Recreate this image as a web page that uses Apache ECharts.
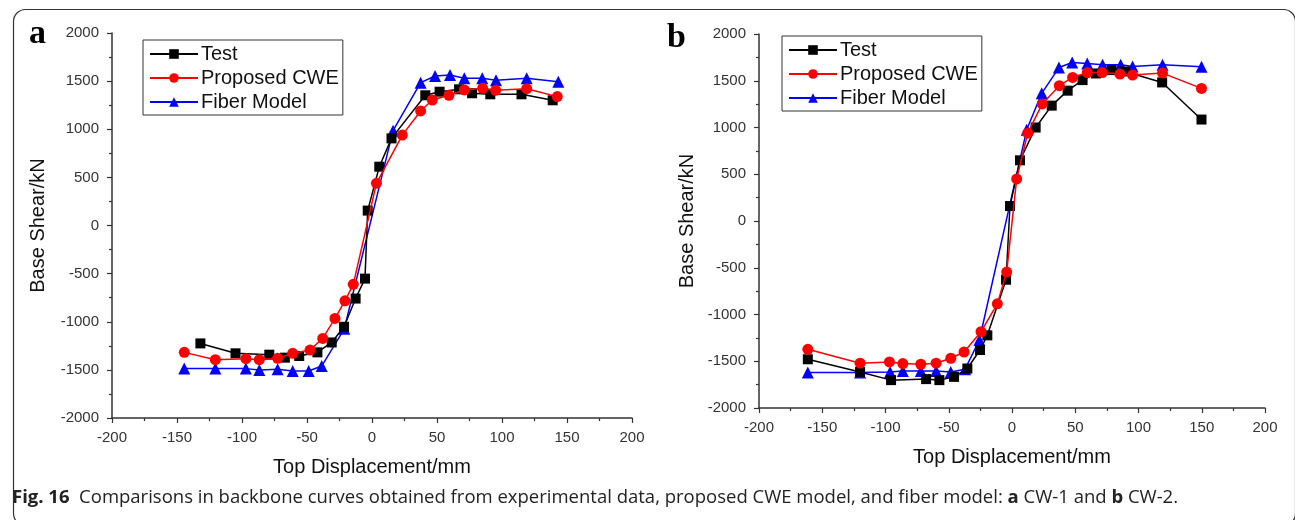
<!DOCTYPE html>
<html>
<head>
<meta charset="utf-8">
<script src="https://cdn.jsdelivr.net/npm/echarts@6/dist/echarts.min.js"></script>
<style>
  html, body { margin: 0; padding: 0; background: #fff; }
  #chart { width: 1295px; height: 520px; }
</style>
</head>
<body>
<div id="chart"></div>
<script>
// panel a (CW-1): [displacement mm, base shear kN]
const testA = [
  [-132, -1225], [-105, -1328], [-79, -1342], [-67, -1373], [-56, -1356], [-42, -1318],
  [-31, -1215], [-21.5, -1052], [-12.6, -759], [-5.4, -552], [-3.3, 155], [5.6, 611],
  [15, 905], [41, 1353], [52, 1390], [67, 1415], [77, 1374], [91, 1363], [115, 1363], [139, 1301]
]
const cweA = [
  [-144.4, -1318], [-120.5, -1394], [-97, -1384], [-86.7, -1394], [-72.6, -1380], [-61, -1328],
  [-47.7, -1294], [-37.9, -1173], [-28.5, -966], [-20.8, -783], [-14.4, -611], [3.4, 438],
  [23.3, 939], [37.4, 1190], [46.4, 1304], [59.2, 1353], [71, 1408], [85.1, 1425],
  [95.1, 1405], [119, 1421], [142.5, 1339]
]
const fiberA = [
  [-144.4, -1487], [-120.5, -1487], [-97, -1487], [-86.7, -1501], [-72.6, -1494], [-61, -1511],
  [-48.7, -1511], [-38.7, -1460], [-21.3, -1073], [16.2, 985], [37.4, 1484], [48.5, 1553],
  [60, 1563], [71, 1529], [84.8, 1529], [95.4, 1508], [119, 1529], [143.3, 1494]
]

// panel b (CW-2)
const testB = [
  [-161.4, -1479], [-120.1, -1614], [-95.6, -1702], [-67.9, -1691], [-57.4, -1702], [-45.8, -1667],
  [-35.3, -1578], [-25.3, -1380], [-19.5, -1223], [-4.7, -628], [-1.6, 160], [6.3, 649],
  [18.7, 1000], [31.4, 1234], [44, 1394], [55.8, 1507], [66.4, 1578], [78.7, 1614],
  [89.3, 1599], [118.7, 1482], [149.8, 1085]
]
const cweB = [
  [-161.4, -1372], [-120.1, -1521], [-96.9, -1507], [-86.3, -1525], [-72.1, -1532], [-60, -1521],
  [-48.4, -1468], [-37.9, -1401], [-24.5, -1184], [-11.6, -886], [-4.2, -546], [3.7, 450],
  [12.4, 939], [23.9, 1252], [37.4, 1447], [47.9, 1535], [59.5, 1588], [71.3, 1588],
  [85.3, 1571], [95.3, 1561], [119, 1582], [149.8, 1418]
]
const fiberB = [
  [-161.4, -1620], [-120.1, -1620], [-96.4, -1614], [-86.3, -1603], [-72.1, -1603], [-60, -1603],
  [-48.4, -1614], [-37.1, -1585], [-25.8, -1273], [11.6, 975], [23.5, 1365], [37.1, 1641],
  [47.6, 1695], [59.5, 1684], [71.6, 1670], [85.9, 1670], [95.3, 1652], [119, 1670], [149.8, 1649]
]

const names = ['Test', 'Proposed CWE', 'Fiber Model']
const xTitle = 'Top Displacement/mm'
const yTitle = 'Base Shear/kN'
const caption = 'Comparisons in backbone curves obtained from experimental data, proposed CWE model, and fiber model: '

const AXC = '#333'
const FONT = 'Arial'

function xAxisOf(idx, gap) {
  return {
    type: 'value', gridIndex: idx, min: -200, max: 200, interval: 50,
    name: xTitle, nameLocation: 'middle', nameGap: gap,
    nameTextStyle: { color: '#111', fontSize: 20, fontFamily: FONT },
    axisLine: { onZero: false, lineStyle: { color: AXC, width: 1.5 } },
    axisTick: { length: 5, lineStyle: { color: AXC, width: 1.2 } },
    minorTick: { show: true, splitNumber: 2, length: 3, lineStyle: { color: AXC, width: 1.2 } },
    axisLabel: { color: '#333', fontSize: 15, fontFamily: FONT, margin: 12, formatter: v => String(v) },
    splitLine: { show: false },
  }
}

function yAxisOf(idx, gap) {
  return {
    type: 'value', gridIndex: idx, min: -2000, max: 2000, interval: 500,
    name: yTitle, nameLocation: 'middle', nameGap: gap,
    nameTextStyle: { color: '#111', fontSize: 20, fontFamily: FONT },
    axisLine: { show: true, onZero: false, lineStyle: { color: AXC, width: 1.5 } },
    axisTick: { show: true, length: 5, lineStyle: { color: AXC, width: 1.2 } },
    minorTick: { show: true, splitNumber: 2, length: 3, lineStyle: { color: AXC, width: 1.2 } },
    axisLabel: { color: '#333', fontSize: 15, fontFamily: FONT, margin: 13, formatter: v => String(v) },
    splitLine: { show: false },
  }
}

function lineSeries(name, data, idx, color, symbol, size) {
  return {
    name, type: 'line', data, xAxisIndex: idx, yAxisIndex: idx,
    symbol, symbolSize: size, showSymbol: true,
    itemStyle: { color },
    lineStyle: { color, width: 1.5 },
    z: name === 'Test' ? 3 : (name === 'Proposed CWE' ? 4 : 2),
  }
}

function legendOf(left, top) {
  return {
    data: names, orient: 'vertical', left, top,
    borderColor: '#333', borderWidth: 1, padding: [4, 4, 3, 6],
    itemWidth: 48, itemHeight: 12, itemGap: 4,
    textStyle: { color: '#111', fontSize: 20, fontFamily: FONT, lineHeight: 20, padding: [0, 0, 0, -2] },
    selectedMode: false,
  }
}

const chart = echarts.init(document.getElementById('chart'), null, { renderer: 'canvas' })

chart.setOption({
  backgroundColor: '#fff',
  animation: false,
  grid: [
    { left: 112, top: 33, width: 520, height: 385 },
    { left: 759, top: 34, width: 506, height: 374 },
  ],
  xAxis: [xAxisOf(0, 39), xAxisOf(1, 39)],
  yAxis: [yAxisOf(0, 64), yAxisOf(1, 62)],
  legend: [legendOf(143, 40), legendOf(782, 36)],
  series: [
    lineSeries('Test', testA, 0, '#000', 'rect', 10),
    lineSeries('Proposed CWE', cweA, 0, '#ff0000', 'circle', 11),
    lineSeries('Fiber Model', fiberA, 0, '#0000ff', 'triangle', 12),
    lineSeries('Test', testB, 1, '#000', 'rect', 10),
    lineSeries('Proposed CWE', cweB, 1, '#ff0000', 'circle', 11),
    lineSeries('Fiber Model', fiberB, 1, '#0000ff', 'triangle', 12),
  ],
  graphic: [
    {
      type: 'rect', left: 11, top: 7, silent: true, z: -1,
      shape: { width: 1282, height: 516, r: 12 },
      style: { fill: 'none', stroke: '#333', lineWidth: 1.2 },
    },
    {
      type: 'text', left: 29, top: 17,
      style: { text: 'a', font: 'bold 34px "Liberation Serif", serif', fill: '#000' },
    },
    {
      type: 'text', left: 667, top: 21,
      style: { text: 'b', font: 'bold 34px "Liberation Serif", serif', fill: '#000' },
    },
    {
      type: 'text', left: 12, top: 488,
      style: {
        text: '{b|Fig. 16}  ' + caption + '{b|a} CW-1 and {b|b} CW-2.',
        font: '18.5px "Open Sans", sans-serif', fill: '#222',
        rich: { b: { fontWeight: 'bold', fontSize: 18.5, fontFamily: 'Open Sans' } },
      },
    },
  ],
})
</script>
</body>
</html>
